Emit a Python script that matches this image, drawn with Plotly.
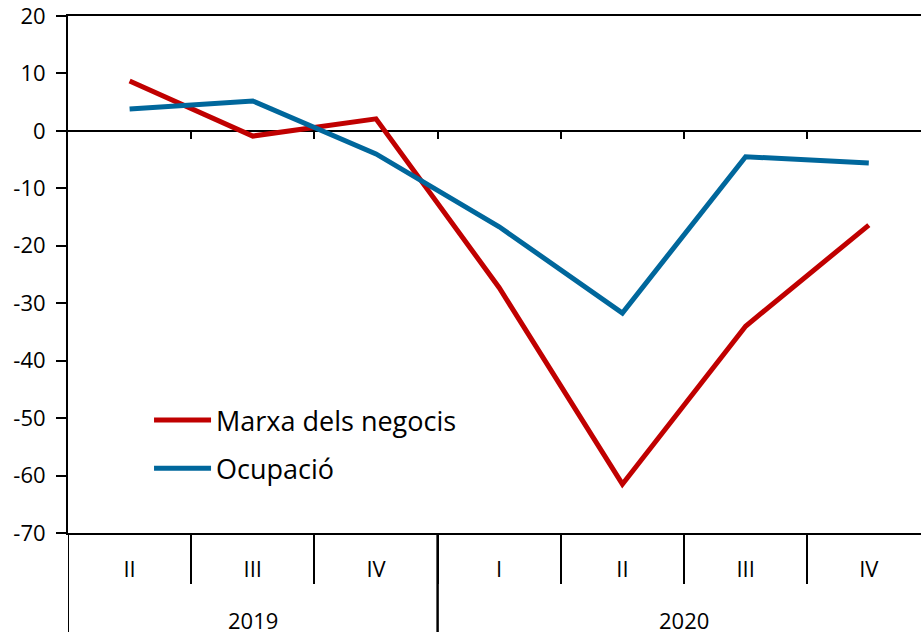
import plotly.graph_objects as go

years = ["2019", "2019", "2019", "2020", "2020", "2020", "2020"]
quarters = ["II", "III", "IV", "I", "II", "III", "IV"]
marxa = [8.7, -0.9, 2.1, -27.3, -61.5, -34.0, -16.4]
ocupacio = [3.8, 5.2, -4.0, -16.7, -31.7, -4.5, -5.6]
y_ticks = [20, 10, 0, -10, -20, -30, -40, -50, -60, -70]

FONT = "Open Sans"
Y_MIN, Y_MAX = -70, 20

idx = list(range(len(quarters)))
bounds = [i + 0.5 for i in idx[:-1]]
# the reference's plot area runs slightly past the right edge of the picture
X_RANGE = [-0.5, -0.5 + 853 / 123.2]

fig = go.Figure()
fig.add_trace(go.Scatter(x=idx, y=marxa, mode="lines", name="Marxa dels negocis",
                         legendgroup="a",
                         line=dict(color="#C00000", width=5)))
fig.add_trace(go.Scatter(x=idx, y=ocupacio, mode="lines", name="Ocupació",
                         legendgroup="b",
                         line=dict(color="#00679C", width=5)))
# empty traces so that the helper axes get drawn
for ax in ("x2", "x3"):
    fig.add_trace(go.Scatter(x=[None], y=[None], xaxis=ax, yaxis="y", mode="lines",
                             showlegend=False, hoverinfo="skip"))

# year labels and dividers
ylist = []
for y in years:
    if y not in ylist:
        ylist.append(y)
annotations = []
shapes = []
below = -(632 - 533) / 517.0
for yr in ylist:
    pos = [i for i, v in enumerate(years) if v == yr]
    annotations.append(dict(x=sum(pos) / len(pos), y=-0.168, xref="x", yref="paper",
                            text=yr, showarrow=False, yanchor="middle",
                            font=dict(family=FONT, size=22, color="black")))
    for edge in (pos[0] - 0.5, pos[-1] + 0.5):
        shapes.append(dict(type="line", xref="x", yref="paper", x0=edge, x1=edge,
                           y0=0, y1=below - 0.05, line=dict(color="black", width=2)))

fig.update_layout(
    width=921, height=632,
    margin=dict(l=68, r=0, t=16, b=99, autoexpand=False),
    plot_bgcolor="white", paper_bgcolor="white",
    font=dict(family=FONT, size=22, color="black"),
    showlegend=True,
    legend=dict(x=0.095, y=0.265, xanchor="left", yanchor="top",
                bgcolor="rgba(0,0,0,0)", font=dict(family=FONT, size=27, color="black"),
                itemwidth=57, tracegroupgap=10),
    annotations=annotations,
    shapes=shapes,
    xaxis=dict(range=X_RANGE, tickvals=idx, ticktext=quarters,
               tickmode="array",
               showline=True, linecolor="black", linewidth=2, mirror=True,
               ticks="outside", ticklen=16, tickwidth=1, tickcolor="rgba(0,0,0,0)",
               tickfont=dict(family=FONT, size=22, color="black"),
               showgrid=False, zeroline=False, automargin=False),
    xaxis2=dict(overlaying="x", anchor="free", position=0, side="bottom",
                range=X_RANGE, tickvals=bounds, showticklabels=False,
                ticks="outside", ticklen=50, tickwidth=2, tickcolor="black",
                showline=False, showgrid=False, zeroline=False, automargin=False),
    xaxis3=dict(overlaying="x", anchor="free", position=(0 - Y_MIN) / (Y_MAX - Y_MIN),
                range=X_RANGE, tickvals=bounds, ticks="outside",
                ticklen=7, tickwidth=2, tickcolor="black", showticklabels=False,
                showline=False, showgrid=False, zeroline=False, automargin=False),
    yaxis=dict(range=[Y_MIN, Y_MAX], tickvals=y_ticks,
               ticktext=[str(v) for v in y_ticks],
               showline=True, linecolor="black", linewidth=2,
               ticks="outside", ticklen=10, tickwidth=2, tickcolor="black",
               ticklabelstandoff=6, ticklabeloverflow="allow",
               showgrid=False, zeroline=True, zerolinecolor="black", zerolinewidth=2,
               tickfont=dict(family=FONT, size=22, color="black"), automargin=False),
)

fig.write_html("out.html", config={"displayModeBar": False},
               post_script="document.body.style.margin='0';")
